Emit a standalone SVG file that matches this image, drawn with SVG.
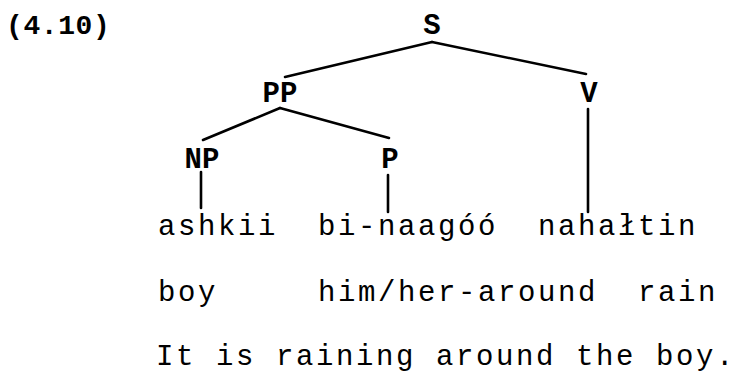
<svg xmlns="http://www.w3.org/2000/svg" width="734" height="374" viewBox="0 0 734 374">
<style>
.bg{fill:#ffffff}
.lbl{font-family:"Liberation Mono","DejaVu Sans Mono",monospace;font-size:29px;font-weight:bold;fill:#000;text-anchor:middle}
.num{font-family:"Liberation Mono","DejaVu Sans Mono",monospace;font-size:28px;font-weight:bold;fill:#000;letter-spacing:0.6px}
.w{font-family:"Liberation Mono","DejaVu Sans Mono",monospace;font-size:29px;fill:#000;letter-spacing:2.6px}
.e{stroke:#000;stroke-width:2.6;fill:none;stroke-linecap:round}
</style>
<rect class="bg" x="0" y="0" width="734" height="374"/>
<text class="num" x="6" y="34">(4.10)</text>
<g id="connectors">
<line class="e" x1="432" y1="42" x2="285" y2="77"/>
<line class="e" x1="432" y1="42" x2="586" y2="74"/>
<line class="e" x1="280" y1="108" x2="203" y2="140"/>
<line class="e" x1="280" y1="108" x2="389" y2="138"/>
<line class="e" x1="201" y1="172" x2="201" y2="208"/>
<line class="e" x1="388" y1="175" x2="388" y2="212"/>
<line class="e" x1="588" y1="109" x2="588" y2="212"/>
</g>
<g id="node-S"><text class="lbl" x="432" y="34">S</text></g>
<g id="node-PP"><text class="lbl" x="280" y="102">PP</text></g>
<g id="node-V"><text class="lbl" x="589" y="102">V</text></g>
<g id="node-NP"><text class="lbl" x="202" y="168">NP</text></g>
<g id="node-P"><text class="lbl" x="390" y="168">P</text></g>
<g id="node-ashkii"><text class="w" x="158" y="235">ashkii</text></g>
<g id="node-binaagoo"><text class="w" x="318" y="235">bi-naagóó</text></g>
<g id="node-nahaltin"><text class="w" x="538" y="235">nahałtin</text></g>
<g id="gloss">
<text class="w" x="158" y="301">boy</text>
<text class="w" x="318" y="301">him/her-around</text>
<text class="w" x="638" y="301">rain</text>
</g>
<g id="translation">
<text class="w" x="156" y="365">It is raining around the boy<tspan style="letter-spacing:0">.</tspan></text>
</g>
</svg>
